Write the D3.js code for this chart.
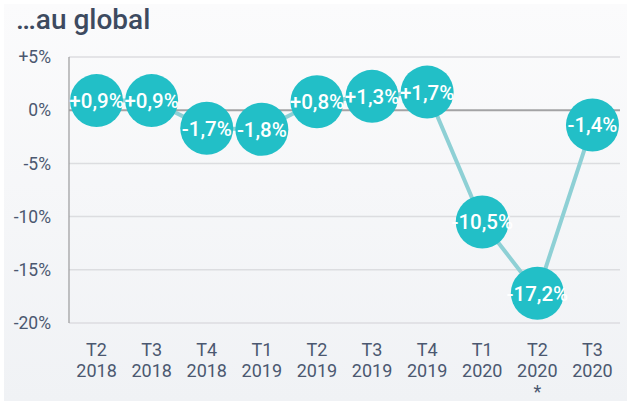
<!DOCTYPE html>
<html lang="fr">
<head>
<meta charset="UTF-8">
<title>…au global</title>
<script src="https://cdn.jsdelivr.net/npm/d3@7/dist/d3.min.js"></script>
<style>
    html, body { margin: 0; padding: 0; background: #ffffff; }
    svg { display: block; font-family: Roboto, "Noto Sans", sans-serif; }
    .tick-label { fill: #4b5870; font-size: 17.5px; }
    .x-label { fill: #4b5870; font-size: 18px; }
    .dot-label { fill: #ffffff; font-size: 20.5px; font-weight: 500; }
</style>
</head>
<body>
<div id="chart"></div>
<script>
"use strict";

// data
var quarters = ["T2", "T3", "T4", "T1", "T2", "T3", "T4", "T1", "T2", "T3"];
var years    = ["2018", "2018", "2018", "2019", "2019", "2019", "2019", "2020", "2020", "2020"];
var notes    = ["", "", "", "", "", "", "", "", "*", ""];
var values   = [0.9, 0.9, -1.7, -1.8, 0.8, 1.3, 1.7, -10.5, -17.2, -1.4];
var labels   = ["+0,9%", "+0,9%", "-1,7%", "-1,8%", "+0,8%", "+1,3%", "+1,7%", "-10,5%", "-17,2%", "-1,4%"];
var yTicks   = [5, 0, -5, -10, -15, -20];
var yTickLabels = ["+5%", "0%", "-5%", "-10%", "-15%", "-20%"];

var W = 627, H = 401;
var margin = {top: 57, right: 7, bottom: 78, left: 69};

var svg = d3.select("#chart").append("svg")
    .attr("width", W)
    .attr("height", H);

var grad = svg.append("defs").append("linearGradient")
    .attr("id", "bg")
    .attr("x1", 0).attr("y1", 0).attr("x2", 0).attr("y2", 1);
grad.append("stop").attr("offset", "0%").attr("stop-color", "#fbfbfc");
grad.append("stop").attr("offset", "100%").attr("stop-color", "#f0f2f5");

svg.append("rect")
    .attr("x", 4).attr("y", 4)
    .attr("width", W - 4).attr("height", H - 4)
    .attr("fill", "url(#bg)");

svg.append("text")
    .attr("x", 16).attr("y", 29)
    .attr("fill", "#3d4a60")
    .style("font-size", "28px")
    .style("font-weight", 500)
    .text("…au global");

var x = d3.scaleBand()
    .domain(d3.range(values.length))
    .range([margin.left, W - margin.right]);

var y = d3.scaleLinear()
    .domain([-20, 5])
    .range([H - margin.bottom, margin.top]);

// gridlines
svg.append("g").selectAll("line")
    .data(yTicks.filter(function(d) { return d !== 0; }))
    .enter().append("line")
    .attr("x1", margin.left).attr("x2", W - margin.right)
    .attr("y1", function(d) { return y(d); })
    .attr("y2", function(d) { return y(d); })
    .attr("stroke", "#dcdde0")
    .attr("stroke-width", 1.5);

// zero line
svg.append("line")
    .attr("x1", margin.left).attr("x2", W - margin.right)
    .attr("y1", y(0)).attr("y2", y(0))
    .attr("stroke", "#a3a3a5")
    .attr("stroke-width", 2);

// y axis line
svg.append("line")
    .attr("x1", margin.left).attr("x2", margin.left)
    .attr("y1", y(5)).attr("y2", y(-20))
    .attr("stroke", "#9a9a9c")
    .attr("stroke-width", 1.2);

// y tick labels
svg.append("g").selectAll("text")
    .data(yTicks)
    .enter().append("text")
    .attr("class", "tick-label")
    .attr("x", 51)
    .attr("y", function(d) { return y(d); })
    .attr("dy", "0.35em")
    .attr("text-anchor", "end")
    .text(function(d, i) { return yTickLabels[i]; });

// x labels
var xl = svg.append("g").selectAll("text")
    .data(d3.range(values.length))
    .enter().append("text")
    .attr("class", "x-label")
    .attr("text-anchor", "middle")
    .attr("x", function(i) { return x(i) + x.bandwidth() / 2; });
xl.append("tspan")
    .attr("x", function(i) { return x(i) + x.bandwidth() / 2; })
    .attr("y", 356)
    .text(function(i) { return quarters[i]; });
xl.append("tspan")
    .attr("x", function(i) { return x(i) + x.bandwidth() / 2; })
    .attr("y", 377)
    .text(function(i) { return years[i]; });

svg.append("g").selectAll("text")
    .data(d3.range(values.length).filter(function(i) { return notes[i]; }))
    .enter().append("text")
    .attr("class", "x-label")
    .attr("text-anchor", "middle")
    .attr("x", function(i) { return x(i) + x.bandwidth() / 2; })
    .attr("y", 398)
    .text(function(i) { return notes[i]; });

// line
var line = d3.line()
    .x(function(d, i) { return x(i) + x.bandwidth() / 2; })
    .y(function(d) { return y(d); });

svg.append("path")
    .datum(values)
    .attr("d", line)
    .attr("fill", "none")
    .attr("stroke", "#8ed0d5")
    .attr("stroke-width", 4);

// dots
var dots = svg.append("g").selectAll("g")
    .data(values)
    .enter().append("g")
    .attr("transform", function(d, i) {
        return "translate(" + (x(i) + x.bandwidth() / 2) + "," + y(d) + ")";
    });

dots.append("circle")
    .attr("r", 26.5)
    .attr("fill", "#22bfc7");

dots.append("text")
    .attr("class", "dot-label")
    .attr("text-anchor", "middle")
    .attr("dy", "0.36em")
    .text(function(d, i) { return labels[i]; });
</script>
</body>
</html>
